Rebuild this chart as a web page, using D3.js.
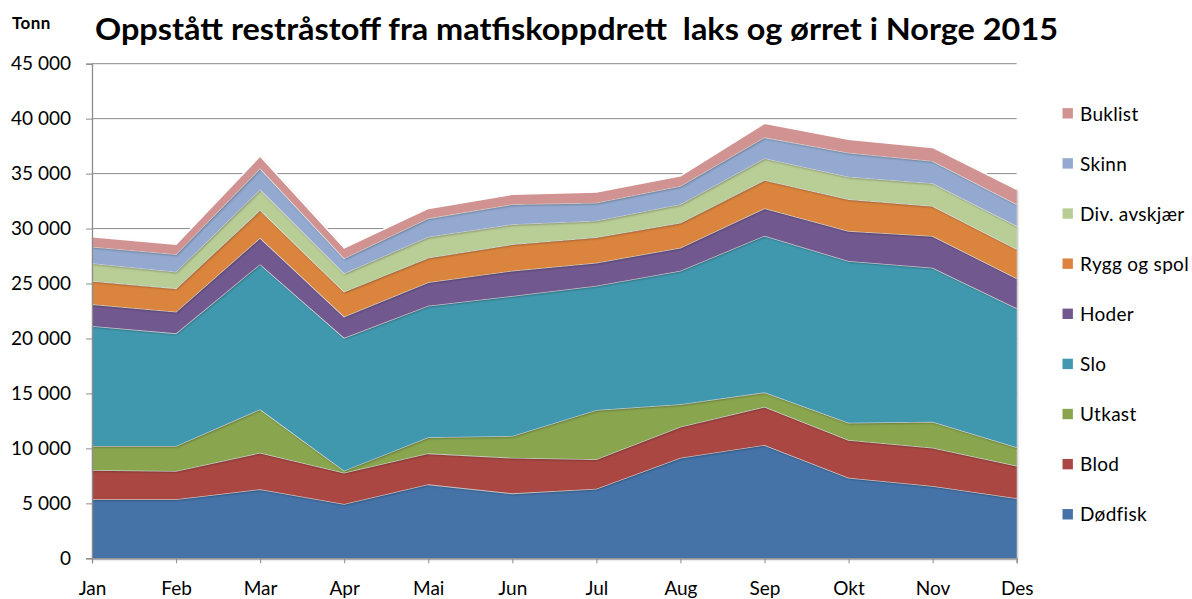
<!DOCTYPE html>
<html>
<head>
<meta charset="utf-8">
<script src="https://cdn.jsdelivr.net/npm/d3@7"></script>
<style>
  html, body { margin: 0; padding: 0; background: #fff; }
  svg { display: block; }
  text { font-family: Lato, "Open Sans", "Liberation Sans", sans-serif; fill: #000; }
</style>
</head>
<body>
<svg id="chart" width="1192" height="599"></svg>
<script>
// ---- Data (tonn) ----
const months = ["Jan","Feb","Mar","Apr","Mai","Jun","Jul","Aug","Sep","Okt","Nov","Des"];
const seriesNames = ["Dødfisk","Blod","Utkast","Slo","Hoder","Rygg og spol","Div. avskjær","Skinn","Buklist"];
const dodfisk  = [5370, 5370, 6280, 4940, 6730, 5910, 6330, 9150, 10310, 7340, 6580, 5460];
const blod     = [2660, 2570, 3330, 2850, 2820, 3240, 2680, 2820, 3480, 3420, 3480, 2970];
const utkast   = [2190, 2280, 3950, 180, 1460, 1980, 4480, 2040, 1310, 1580, 2370, 1670];
const slo      = [10920, 10250, 13200, 12090, 11970, 12740, 11310, 12160, 14250, 14710, 14010, 12650];
const hoder    = [1970, 1970, 2400, 1930, 2130, 2300, 2100, 2090, 2490, 2730, 2880, 2730];
const rygg     = [2120, 2125, 2530, 2270, 2240, 2400, 2310, 2270, 2580, 2880, 2730, 2660];
const divAvsk  = [1610, 1510, 1880, 1670, 1910, 1820, 1510, 1680, 1970, 2060, 2070, 2120];
const skinn    = [1510, 1585, 1910, 1365, 1670, 1820, 1630, 1660, 1910, 2180, 2030, 1950];
const buklist  = [910, 910, 1120, 955, 910, 910, 980, 940, 1280, 1220, 1240, 1360];
const yTicks   = [0, 5000, 10000, 15000, 20000, 25000, 30000, 35000, 40000, 45000];
const colors   = ["#4572A7","#AA4643","#89A54E","#4198AF","#71588F","#DB843D","#B9CD96","#93A9CF","#D19392"];
const titleText = "Oppstått restråstoff fra matfiskoppdrett  laks og ørret i Norge 2015";
const unitText = "Tonn";

const seriesValues = [dodfisk, blod, utkast, slo, hoder, rygg, divAvsk, skinn, buklist];
const table = months.map((m, i) => {
  const row = { month: m };
  seriesNames.forEach((s, k) => row[s] = seriesValues[k][i]);
  return row;
});

// ---- Layout ----
const svg = d3.select("#chart");
const pLeft = 92, pRight = 1016.7, pTop = 63.7, pBottom = 558.3;
const labelFont = "Lato, 'Open Sans', sans-serif";

const x = d3.scalePoint().domain(months).range([pLeft, pRight]).padding(0);
const y = d3.scaleLinear().domain([0, 45000]).range([pBottom, pTop]);

const defs = svg.append("defs");
const f = defs.append("filter").attr("id", "sh").attr("x", "-5%").attr("y", "-5%").attr("width", "110%").attr("height", "115%");
f.append("feDropShadow").attr("dx", 0.8).attr("dy", 1.2).attr("stdDeviation", 0.8)
  .attr("flood-color", "#000").attr("flood-opacity", 0.35);

// gridlines
svg.append("g").selectAll("line").data(yTicks.filter(d => d > 0)).join("line")
  .attr("x1", pLeft).attr("x2", pRight)
  .attr("y1", d => y(d)).attr("y2", d => y(d))
  .attr("stroke", "#8c8c8c").attr("stroke-width", 1);

// stacked areas
const stack = d3.stack().keys(seriesNames);
const stacked = stack(table);

const area = d3.area()
  .x(d => x(d.data.month))
  .y0(d => y(d[0]))
  .y1(d => y(d[1]));
const topLine = d3.line()
  .x(d => x(d.data.month))
  .y(d => y(d[1]));

const gA = svg.append("g");
stacked.forEach((s, k) => {
  gA.append("path").attr("d", area(s)).attr("fill", colors[k]).attr("filter", "url(#sh)");
  gA.append("path").attr("d", topLine(s)).attr("fill", "none")
    .attr("stroke", "#fff").attr("stroke-width", 1.6).attr("stroke-linejoin", "miter");
});

// axes
const yAxis = d3.axisLeft(y).tickValues(yTicks).tickSize(6).tickPadding(15)
  .tickFormat(d => d3.format(",")(d).replace(/,/g, " "));
const gy = svg.append("g").attr("transform", `translate(${pLeft},0)`).call(yAxis);
gy.select(".domain").attr("stroke", "#8c8c8c").attr("stroke-width", 1.3);
gy.selectAll(".tick line").attr("stroke", "#8c8c8c");
gy.selectAll(".tick text").attr("font-size", 19).attr("fill", "#000")
  .style("font-family", labelFont);

const xAxis = d3.axisBottom(x).tickSize(5).tickPadding(18);
const gx = svg.append("g").attr("transform", `translate(0,${pBottom})`).call(xAxis);
gx.select(".domain").attr("stroke", "#8c8c8c").attr("stroke-width", 1.3);
gx.selectAll(".tick line").attr("stroke", "#8c8c8c");
gx.selectAll(".tick text").attr("font-size", 19).attr("fill", "#000")
  .style("font-family", labelFont);

// title
svg.append("text").attr("x", 95).attr("y", 40)
  .attr("font-size", 31).attr("font-weight", "bold")
  .attr("textLength", 963).attr("lengthAdjust", "spacingAndGlyphs")
  .style("white-space", "pre")
  .text(titleText);
svg.append("text").attr("x", 12).attr("y", 29)
  .attr("font-size", 17).attr("font-weight", "bold").attr("letter-spacing", 0.4)
  .text(unitText);

// legend
const legendOrder = seriesNames.map((n, k) => ({ name: n, color: colors[k] })).reverse();
const lg = svg.append("g");
legendOrder.forEach((d, i) => {
  const cy = 113.3 + i * 50.12;
  lg.append("rect").attr("x", 1062.5).attr("y", cy - 5.2).attr("width", 10.4).attr("height", 10.4)
    .attr("fill", d.color);
  lg.append("text").attr("x", 1080).attr("y", cy + 7.2).attr("font-size", 19)
    .attr("letter-spacing", 0.3).text(d.name);
});
</script>
</body>
</html>
